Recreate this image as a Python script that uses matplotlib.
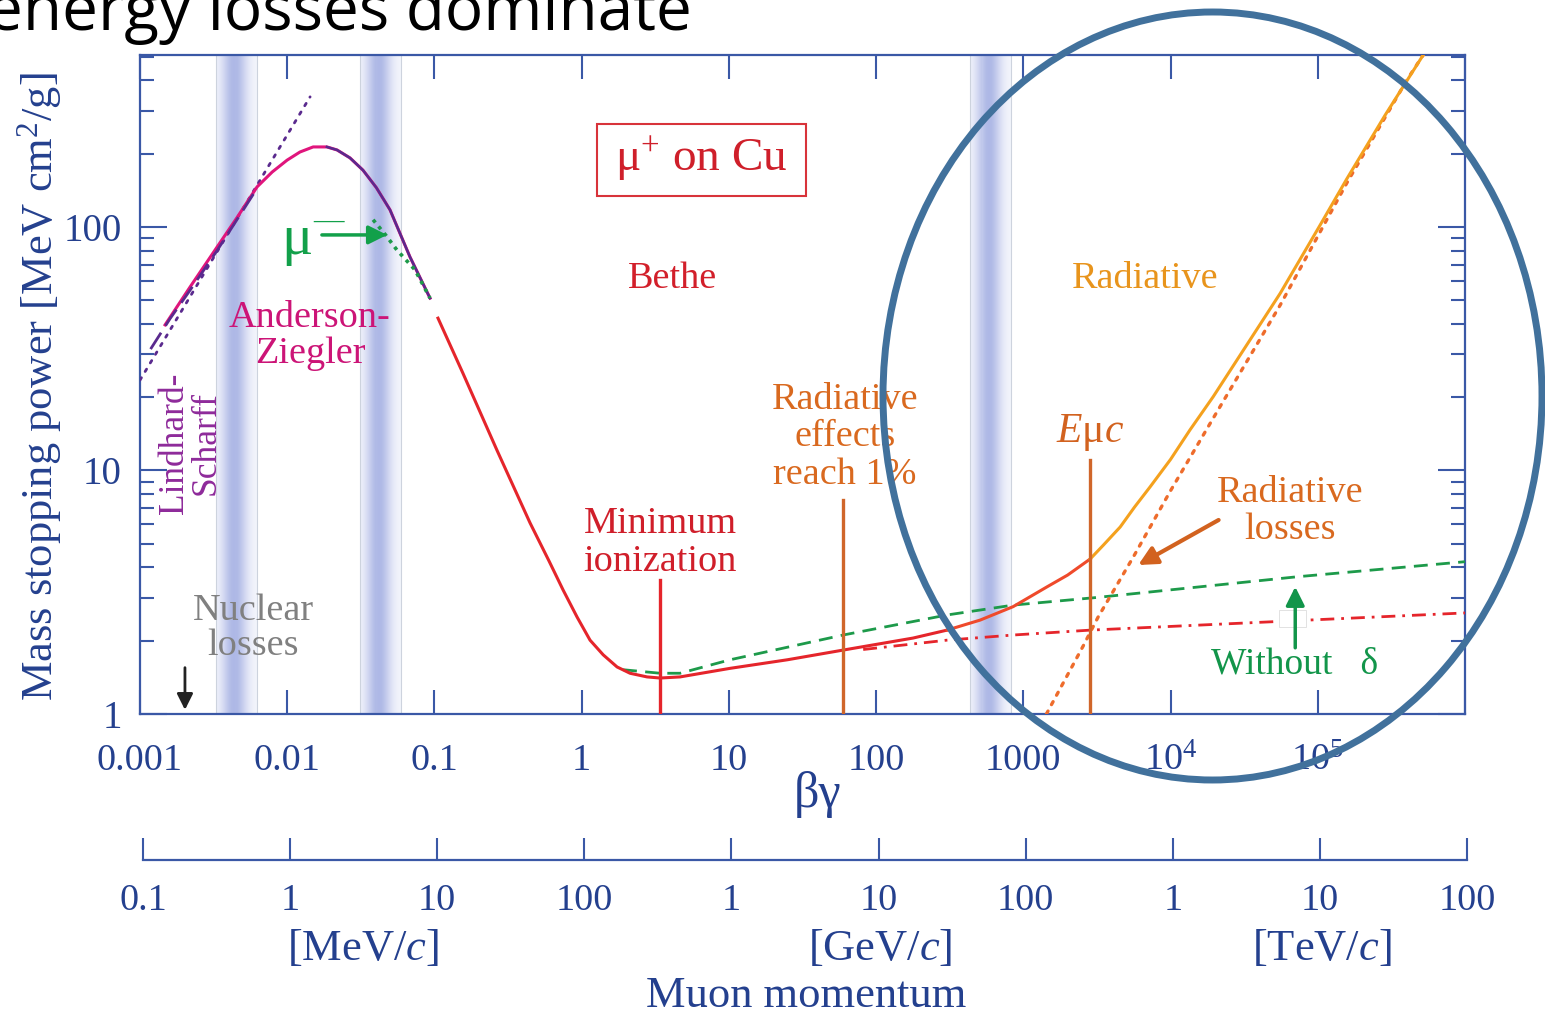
import numpy as np
import matplotlib
matplotlib.use("Agg")
import matplotlib.pyplot as plt
from matplotlib.patches import Ellipse, Rectangle
from matplotlib.ticker import FixedLocator, FixedFormatter, NullLocator, NullFormatter

plt.rcParams['font.family'] = ['Liberation Serif', 'DejaVu Serif']
plt.rcParams['mathtext.fontset'] = 'custom'
plt.rcParams['mathtext.rm'] = 'Liberation Serif'
plt.rcParams['mathtext.it'] = 'Liberation Serif:italic'

# ---- data (beta*gamma, stopping power MeV cm2/g) ----
az_bg = [0.00148, 0.00219, 0.00334, 0.00455, 0.00624, 0.0079, 0.00998, 0.0122,
         0.0150, 0.0186, 0.0218, 0.0267, 0.0327, 0.0403, 0.0499, 0.0682, 0.0933]
az_s = [39.6, 56.7, 82.7, 109, 146, 168, 188, 203, 213, 213, 207, 192, 171, 145,
        117.5, 75.3, 51]

ls_bg = [0.00118, 0.00160, 0.00219, 0.00334, 0.00455, 0.00624]
ls_s = [31.5, 42.0, 55.0, 80.0, 107, 144]

lsdot_bg = [0.001, 0.0143]
lsdot_s = [23.5, 342]

mum_bg = [0.0383, 0.0470, 0.0555, 0.0738, 0.0933]
mum_s = [107, 92, 80.5, 66.6, 51]

bethe_bg = [0.1057, 0.156, 0.266, 0.446, 0.60, 0.748, 0.931, 1.14, 1.40, 1.74, 2.13, 2.78,
            3.41, 4.66, 10.2, 25, 59.7, 178, 303]
bethe_s = [42.2, 25.1, 12.1, 6.09, 4.25, 3.23, 2.50, 2.01, 1.75, 1.56, 1.47, 1.42,
           1.405, 1.42, 1.54, 1.67, 1.83, 2.05, 2.21]

mid_bg = [303, 509, 853, 1452, 2000, 2845]
mid_s = [2.21, 2.43, 2.76, 3.33, 3.72, 4.33]

tot_bg = [2845, 3500, 4550, 5700, 7260, 10000, 13580, 19500, 34700, 55600, 104000,
          157000, 287000, 520000]
tot_s = [4.33, 4.94, 5.86, 7.08, 8.56, 11.1, 14.7, 20.1, 34.4, 53.4, 102, 157, 288, 508]

rad_bg = [1435, 2547, 3220, 5570, 9930, 19500, 55600, 158000, 404000, 520000]
rad_s = [1.0, 1.9, 2.5, 4.4, 8.2, 16.4, 47.8, 152, 402, 508]

nodelta_bg = [1.91, 3.41, 4.66, 10.2, 59.7, 303, 853, 3170, 72400, 1e6]
nodelta_s = [1.52, 1.47, 1.47, 1.67, 2.11, 2.55, 2.80, 3.01, 3.66, 4.22]

ion_bg = [81.7, 303, 853, 2845, 1e5, 1e6]
ion_s = [1.84, 2.01, 2.11, 2.21, 2.44, 2.60]

marker_bg = [3.41, 59.7, 2845]
marker_top = [3.55, 7.57, 11.0]

band_lo = [0.00328, 0.0313, 436]
band_hi = [0.00624, 0.0593, 826]

bg_ticks = [1e-3, 1e-2, 1e-1, 1, 10, 100, 1000, 1e4, 1e5, 1e6]
bg_labels = ['0.001', '0.01', '0.1', '1', '10', '100', '1000', '$10^{4}$', '$10^{5}$', '']
s_ticks = [1, 10, 100]
s_labels = ['1', '10', '100']
s_minor = [2, 3, 4, 5, 6, 7, 8, 9, 20, 30, 40, 50, 60, 70, 80, 90, 200, 300, 400, 500]

p_ticks = [0.1, 1, 10, 100, 1e3, 1e4, 1e5, 1e6, 1e7, 1e8]
p_labels = ['0.1', '1', '10', '100', '1', '10', '100', '1', '10', '100']

# ---- colours ----
axis_c = '#3a58a6'
text_c = '#24408e'
red = '#e5252b'
magenta = '#e0157c'
purple = '#5a2a8e'
green = '#1d9a4a'
orange = '#f4a11e'
rad_c = '#ee6c2c'
brown = '#d0662a'

W, H = 1545, 1015
fig = plt.figure(figsize=(W / 100, H / 100), dpi=100)
ax = fig.add_axes([140 / W, 1 - 714 / H, 1325 / W, 659 / H])
ax.set_xscale('log')
ax.set_yscale('log')
ax.set_xlim(1e-3, 1e6)
ax.set_ylim(1, 508)

# shaded bands
dark = np.array([0.68, 0.72, 0.90])
for lo, hi in zip(band_lo, band_hi):
    edges = np.logspace(np.log10(lo), np.log10(hi), 41)
    for i in range(40):
        t = (i + 0.5) / 40
        w = 0.12 + 0.88 * np.exp(-((t - 0.45) / 0.3) ** 2)
        ax.axvspan(edges[i], edges[i + 1], color=tuple(1 - w * (1 - dark)), lw=0, zorder=0)
    for e in (lo, hi):
        ax.axvline(e, color='#cdd3de', lw=0.8, zorder=0.5)

# curves
ax.plot(lsdot_bg, lsdot_s, color=purple, lw=2, ls=(0, (1, 2.6)), dash_capstyle='round', zorder=3)
ax.plot(az_bg, az_s, color=magenta, lw=2.2, zorder=3)
ax.plot(ls_bg, ls_s, color=purple, lw=2, ls=(0, (7, 3)), zorder=3.5)
ax.plot(az_bg[9:], az_s[9:], color=purple, lw=1.8, zorder=3.6)
ax.plot(mum_bg, mum_s, color=green, lw=2.6, ls=(0, (1, 1.4)), zorder=3.7)
ax.plot(bethe_bg, bethe_s, color=red, lw=2.2, zorder=4)
ax.plot(mid_bg, mid_s, color='#ef4a2b', lw=2.2, zorder=4)
ax.plot(tot_bg, tot_s, color=orange, lw=2.2, zorder=4)
ax.plot(rad_bg, rad_s, color=rad_c, lw=2.4, ls=(0, (1, 2.2)), dash_capstyle='round', zorder=3.8)
ax.plot(nodelta_bg, nodelta_s, color=green, lw=2, ls=(0, (5, 3)), zorder=3.5)
ax.plot(ion_bg, ion_s, color=red, lw=2, ls=(0, (5, 2.5, 1, 2.5)), zorder=3.5)

for bg, top, c in zip(marker_bg, marker_top, [red, brown, brown]):
    ax.plot([bg, bg], [1, top], color=c, lw=2.4, zorder=4.5)

# ticks / spines
for s in ax.spines.values():
    s.set_color(axis_c)
    s.set_linewidth(1.6)
ax.xaxis.set_major_locator(FixedLocator(bg_ticks))
ax.xaxis.set_major_formatter(FixedFormatter(bg_labels))
ax.xaxis.set_minor_locator(NullLocator())
ax.yaxis.set_major_locator(FixedLocator(s_ticks))
ax.yaxis.set_major_formatter(FixedFormatter(s_labels))
ax.yaxis.set_minor_locator(FixedLocator(s_minor))
ax.yaxis.set_minor_formatter(NullFormatter())
ax.tick_params(axis='x', which='major', direction='in', length=17, width=1.5,
               top=True, bottom=True, color=axis_c, labelcolor=text_c, labelsize=27.5, pad=21)
ax.tick_params(axis='y', which='major', direction='in', length=19.5, width=1.5,
               left=True, right=True, color=axis_c, labelcolor=text_c, labelsize=28, pad=13)
ax.tick_params(axis='y', which='minor', direction='in', length=10, width=1.5,
               left=True, right=True, color=axis_c)

# annotations
T = ax.transAxes
ax.add_patch(Rectangle((0.3449, 0.786), 0.1577, 0.1093, transform=T, fill=False,
                       ec='#d8333a', lw=1.5, zorder=5))
ax.text(0.4234, 0.8407, 'μ$^{+}$ on Cu', transform=T, ha='center', va='center',
        color='#cf1f2a', fontsize=34)
ax.text(0.4023, 0.6601, 'Bethe', transform=T, ha='center', va='center', color='#d21f2a', fontsize=27.5)
ax.text(0.7585, 0.6601, 'Radiative', transform=T, ha='center', va='center', color='#e8941c', fontsize=27.5)
ax.text(0.1283, 0.5736, 'Anderson-\nZiegler', transform=T, ha='center', va='center',
        color='#cc1477', fontsize=27.5, linespacing=1.07)
ax.text(0.0377, 0.4112, 'Lindhard-\nScharff', transform=T, ha='center', va='center', rotation=90,
        color='#8e2a9a', fontsize=25.5, linespacing=0.95)
ax.text(0.0853, 0.1305, 'Nuclear\nlosses', transform=T, ha='center', va='center',
        color='#808080', fontsize=27.5, linespacing=1.02)
ax.text(0.3925, 0.2595, 'Minimum\nionization', transform=T, ha='center', va='center',
        color='#d01e2a', fontsize=27.5, linespacing=1.12)
ax.text(0.5321, 0.4203, 'Radiative\neffects\nreach 1%', transform=T, ha='center', va='center',
        color='#d9691f', fontsize=27.5, linespacing=1.12)
ax.text(0.717, 0.4279, '$E$μ$c$', transform=T, ha='center', va='center', color='#d2621f', fontsize=30)
ax.text(0.8679, 0.308, 'Radiative\nlosses', transform=T, ha='center', va='center',
        color='#d9691f', fontsize=27.5, linespacing=1.1)
ax.text(0.8717, 0.0759, 'Without   δ', transform=T, ha='center', va='center', color='#12954a', fontsize=27)
ax.text(0.1181, 0.720, 'μ', transform=T, ha='center', va='center', color='#12a04a', fontsize=42)
ax.text(0.1419, 0.748, '—', transform=T, ha='center', va='center', color='#12a04a', fontsize=22)

ax.add_patch(Rectangle((0.8596, 0.132), 0.0204, 0.0258, transform=T, fc='white',
                       ec='#dddddd', lw=0.6, zorder=5))

arr = dict(arrowstyle='-|>', mutation_scale=28, shrinkA=0, shrinkB=0)
ax.annotate('', xy=(70300, 3.33), xytext=(70300, 1.87),
            arrowprops=dict(arr, color='#12954a', lw=2.5), zorder=6)
ax.annotate('', xy=(6030, 4.09), xytext=(21200, 6.26),
            arrowprops=dict(arr, color='#d2621f', lw=3), zorder=6)
ax.annotate('', xy=(0.00202, 1.04), xytext=(0.00202, 1.55),
            arrowprops=dict(arr, color='#222222', lw=2, mutation_scale=24), zorder=6)
ax.annotate('', xy=(0.0477, 92.7), xytext=(0.0172, 92.7),
            arrowprops=dict(arr, color='#12a04a', lw=2.5), zorder=6)

# momentum axis
ax2 = fig.add_axes([143 / W, 1 - 860 / H, 1324 / W, 0.001])
ax2.patch.set_visible(False)
ax2.set_xscale('log')
ax2.set_xlim(0.1, 1e8)
for s in ['top', 'left', 'right']:
    ax2.spines[s].set_visible(False)
ax2.spines['bottom'].set_color(axis_c)
ax2.spines['bottom'].set_linewidth(1.6)
ax2.set_yticks([])
ax2.xaxis.set_major_locator(FixedLocator(p_ticks))
ax2.xaxis.set_major_formatter(FixedFormatter(p_labels))
ax2.xaxis.set_minor_locator(NullLocator())
ax2.tick_params(axis='x', direction='in', length=16, width=1.5, color=axis_c,
                labelcolor=text_c, labelsize=27.5, pad=17)

fig.text(818 / W, 1 - 795 / H, 'βγ', ha='center', va='center', color=text_c, fontsize=36)
fig.text(363 / W, 1 - 948 / H, '[MeV/$c$]', ha='center', va='center', color=text_c, fontsize=32)
fig.text(880 / W, 1 - 948 / H, '[GeV/$c$]', ha='center', va='center', color=text_c, fontsize=32)
fig.text(1322 / W, 1 - 948 / H, '[TeV/$c$]', ha='center', va='center', color=text_c, fontsize=32)
fig.text(806 / W, 1 - 996 / H, 'Muon momentum', ha='center', va='center', color=text_c, fontsize=32)
fig.text(40 / W, 1 - 387 / H, 'Mass stopping power [MeV cm$^{2}$/g]', ha='center', va='center',
         rotation=90, color=text_c, fontsize=32)

fig.text(692 / W, 1 - 30 / H, 'energy losses dominate', ha='right', va='baseline',
         fontsize=46, family=['Open Sans', 'DejaVu Sans'], color='black')

fig.add_artist(Ellipse((1212.5 / W, 1 - 396 / H), 659 / W, 768 / H, transform=fig.transFigure,
                       fill=False, ec='#41719c', lw=5, zorder=20))

fig.savefig('out.png', dpi=100)
